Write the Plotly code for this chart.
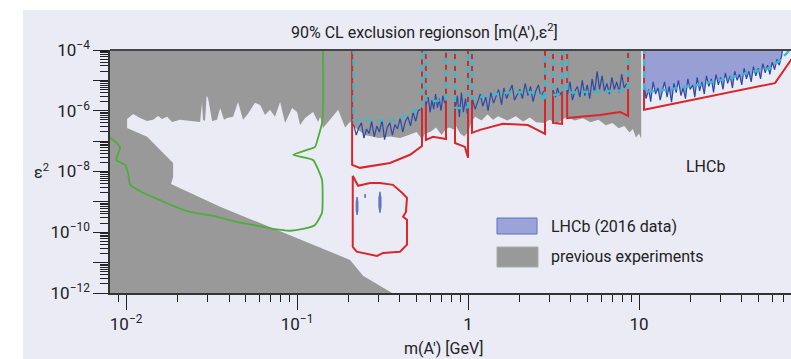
import numpy as np
import plotly.graph_objects as go

# ---------------- data: masses in GeV, limits as log10(eps^2) ----------------
# lower edge of the region excluded by previous (prompt / collider) experiments
prev_upper_mass = [0.01014, 0.01014, 0.01099, 0.01208, 0.01327, 0.01439, 0.01538, 0.01626, 0.01738,
                   0.01858, 0.02070, 0.02366, 0.02710, 0.02780, 0.02818, 0.02897, 0.02960, 0.03020,
                   0.03184, 0.03404, 0.03548, 0.03741, 0.03899, 0.04227, 0.04519, 0.04831, 0.05164,
                   0.05675, 0.06081, 0.06501, 0.06950, 0.07430, 0.07962, 0.08511, 0.09099, 0.09354,
                   0.1000, 0.1042, 0.1114, 0.1143, 0.1242, 0.1327, 0.1365, 0.1419, 0.156, 0.174,
                   0.191, 0.205, 0.212, 0.25, 0.30, 0.35, 0.40, 0.45, 0.50, 0.54, 0.56, 0.60, 0.65,
                   0.70, 0.743, 0.78, 0.82, 0.85, 0.90, 0.95, 1.00, 1.05, 1.10, 1.20, 1.30, 1.40,
                   1.50, 1.70, 1.90, 2.10, 2.30, 2.50, 2.80, 3.00, 3.30, 3.60, 3.80, 4.20, 4.70,
                   5.20, 5.80, 6.40, 7.00, 7.60, 8.20, 8.80, 9.20, 9.60, 10.0, 10.3]
prev_upper_log = [-6.57, -6.27, -6.11, -6.24, -6.34, -6.30, -6.17, -6.27, -6.20,
                  -6.37, -6.30, -6.34, -6.37, -5.74, -6.30, -6.34, -5.51, -5.60,
                  -6.34, -6.30, -5.91, -6.30, -6.24, -6.20, -5.71, -6.30, -6.10,
                  -5.74, -5.81, -6.14, -5.97, -6.20, -5.71, -6.40, -6.04, -5.91,
                  -6.04, -6.47, -6.24, -6.20, -6.04, -6.37, -6.20, -6.57, -6.30, -5.97,
                  -6.55, -6.35, -6.50, -6.80, -6.90, -6.85, -6.90, -6.80, -6.70, -6.95, -6.75, -6.70, -6.55,
                  -6.80, -6.60, -6.55, -6.62, -6.50, -6.75, -6.85, -6.70, -6.35, -6.20, -6.32, -6.12, -6.30,
                  -6.18, -6.32, -6.18, -6.35, -6.22, -6.38, -6.40, -6.30, -6.42, -6.28, -6.20, -6.32, -6.25,
                  -6.38, -6.30, -6.48, -6.40, -6.58, -6.50, -6.72, -6.60, -6.88, -6.75, -6.92]
# upper edge of the beam-dump excluded region
beamdump_mass = [0.01014, 0.01327, 0.01884, 0.01884, 0.01832, 0.03548, 0.2042, 0.2432, 0.3597]
beamdump_log = [-6.57, -6.86, -7.72, -8.18, -8.41, -9.16, -10.91, -11.43, -12.0]

# LHCb 2016 observed limit, per mass window
obs_m1 = [0.214, 0.222, 0.230, 0.238, 0.246, 0.255, 0.264, 0.273, 0.283, 0.293, 0.303, 0.314, 0.325, 0.337,
          0.349, 0.361, 0.374, 0.387, 0.401, 0.415, 0.430, 0.445, 0.461, 0.477, 0.494, 0.511, 0.528]
obs_y1 = [-6.45, -6.80, -6.55, -6.40, -6.90, -6.60, -6.75, -6.35, -6.85, -6.50, -6.70, -6.30, -6.95, -6.55,
          -6.40, -6.80, -6.45, -6.60, -6.25, -6.70, -6.35, -6.20, -6.50, -6.05, -6.35, -6.00, -5.95]
obs_m2 = [0.570, 0.585, 0.600, 0.615, 0.630, 0.646, 0.662, 0.678, 0.695, 0.712, 0.730]
obs_y2 = [-5.80, -5.55, -6.05, -5.65, -5.95, -5.45, -5.90, -5.60, -6.00, -5.50, -5.75]
obs_m3 = [0.842, 0.866, 0.890, 0.915, 0.940, 0.966, 0.990]
obs_y3 = [-5.95, -5.50, -6.20, -5.40, -6.05, -5.60, -6.10]
obs_m4 = [1.06, 1.10, 1.14, 1.18, 1.22, 1.27, 1.31, 1.36, 1.41, 1.46, 1.51, 1.57, 1.62, 1.68,
          1.74, 1.81, 1.87, 1.94, 2.01, 2.08, 2.16, 2.24, 2.32, 2.40, 2.49, 2.58, 2.67, 2.77]
obs_y4 = [-5.60, -5.95, -5.70, -5.45, -5.85, -5.55, -6.00, -5.40, -5.75, -5.50, -5.30, -5.80, -5.25, -5.60,
          -5.40, -5.15, -5.65, -5.45, -5.30, -5.60, -5.10, -5.50, -5.20, -5.70, -5.35, -5.15, -5.55, -5.35]
obs_m5 = [3.16, 3.25, 3.34, 3.43, 3.50]
obs_y5 = [-5.35, -5.55, -5.25, -5.50, -5.40]
obs_m6 = [3.82, 3.95, 4.08, 4.22, 4.36, 4.51, 4.66, 4.82, 4.98, 5.15, 5.32, 5.50, 5.69, 5.88,
          6.08, 6.28, 6.49, 6.71, 6.94, 7.17, 7.41, 7.66, 7.92, 8.19, 8.47]
obs_y6 = [-5.45, -5.05, -5.65, -5.35, -5.20, -5.55, -5.00, -5.50, -5.15, -5.60, -4.95, -5.40, -4.70, -5.30,
          -4.85, -5.35, -5.10, -5.45, -4.90, -5.30, -5.05, -5.40, -4.80, -5.25, -5.10]
obs_m7 = [10.7, 11.0, 11.4, 11.7, 12.1, 12.5, 12.9, 13.3, 13.7, 14.1, 14.6, 15.0, 15.5, 16.0, 16.5,
          17.0, 17.6, 18.1, 18.7, 19.3, 19.9, 20.6, 21.2, 21.9, 22.6, 23.3, 24.1, 24.8, 25.6, 26.5,
          27.3, 28.2, 29.1, 30.0, 31.0, 32.0, 33.0, 34.1, 35.2, 36.3, 37.5, 38.7, 39.9, 41.2, 42.5,
          43.9, 45.3, 46.7, 48.2, 49.8, 51.4, 53.0, 54.7, 56.5, 58.3, 60.1, 62.1, 64.1, 66.1, 68.2, 69.5]
obs_y7 = [-5.15, -5.60, -5.30, -5.70, -5.05, -5.45, -5.25, -5.65, -5.35, -5.05, -5.55, -5.20, -5.72, -5.10, -5.40,
          -5.00, -5.50, -5.25, -5.60, -4.95, -5.30, -5.15, -5.55, -4.90, -5.35, -5.05, -5.45, -4.85, -5.20, -4.95,
          -5.40, -4.80, -5.15, -4.90, -5.30, -4.75, -5.10, -4.85, -5.25, -4.70, -5.00, -4.80, -5.15, -4.60, -4.95,
          -4.70, -5.05, -4.55, -4.85, -4.60, -4.95, -4.45, -4.75, -4.50, -4.80, -4.40, -4.65, -4.30, -4.50, -4.20, -3.90]

# LHCb expected limit, per mass window
exp_m1 = [0.214, 0.30, 0.385, 0.45, 0.538]
exp_y1 = [-6.30, -6.32, -6.30, -6.10, -5.88]
exp_m2 = [0.567, 0.65, 0.743]
exp_y2 = [-5.65, -5.68, -5.62]
exp_m3 = [0.839, 0.92, 1.0]
exp_y3 = [-5.90, -5.92, -5.88]
exp_m4 = [1.055, 1.3, 1.6, 2.0, 2.4, 2.65, 2.82]
exp_y4 = [-5.60, -5.50, -5.42, -5.38, -5.40, -5.48, -5.70]
exp_m5 = [3.14, 3.55]
exp_y5 = [-5.48, -5.45]
exp_m6 = [3.80, 5.0, 6.5, 8.63]
exp_y6 = [-5.40, -5.38, -5.36, -5.33]
exp_m7 = [10.7, 15.0, 21.8, 34.0, 42.8, 58.3, 66.8, 73.4, 78.0]
exp_y7 = [-5.38, -5.30, -5.15, -4.92, -4.76, -4.60, -4.33, -4.10, -3.90]

# projected (red) sensitivity, per mass window
proj_m1 = [0.210, 0.233, 0.350, 0.458, 0.538]
proj_y1 = [-7.78, -7.88, -7.72, -7.45, -7.16]
proj_m2 = [0.567, 0.624, 0.743]
proj_y2 = [-6.96, -6.86, -6.93]
proj_m3 = [0.839, 0.959, 1.0]
proj_y3 = [-7.06, -7.19, -7.55]
proj_m4 = [1.055, 1.175, 1.60, 2.24, 2.82]
proj_y4 = [-6.73, -6.63, -6.43, -6.47, -6.76]
proj_m5 = [3.14, 3.55]
proj_y5 = [-6.40, -6.43]
proj_m6 = [3.80, 4.52, 5.92, 7.74, 8.63]
proj_y6 = [-6.24, -6.20, -6.14, -6.04, -6.17]
proj_m7 = [10.7, 62.4, 85.0]
proj_y7 = [-5.97, -5.09, -4.00]
# projected displaced-search island
island_m = [0.2117, 0.2117, 0.2234, 0.278, 0.2938, 0.3184, 0.400, 0.4395, 0.4395, 0.4169, 0.4335,
            0.4395, 0.4111, 0.3639, 0.3055, 0.2673, 0.2275, 0.2117]
island_y = [-8.14, -10.48, -10.64, -10.74, -10.78, -10.68, -10.64, -10.41, -9.59, -9.49, -9.33,
            -8.87, -8.70, -8.44, -8.38, -8.38, -8.47, -8.14]
# LHCb displaced-search excluded islands
disp1_m = [0.2244, 0.2272, 0.2272, 0.2244, 0.2216, 0.2216, 0.2244]
disp1_y = [-8.84, -9.00, -9.28, -9.43, -9.28, -9.00, -8.84]
disp2_m = [0.2500, 0.2515, 0.2500, 0.2485, 0.2500]
disp2_y = [-8.74, -8.80, -8.87, -8.80, -8.74]
disp3_m = [0.3055, 0.3100, 0.3100, 0.3055, 0.3010, 0.3010, 0.3055]
disp3_y = [-8.67, -8.85, -9.18, -9.36, -9.18, -8.85, -8.67]

# green (other projection) contour
green_m = [0.0080, 0.00923, 0.00875, 0.00987, 0.01028, 0.01055, 0.01256, 0.01517, 0.01884, 0.02366,
           0.03228, 0.04227, 0.05534, 0.07244, 0.09099, 0.1084, 0.1274, 0.1400, 0.1400, 0.1242,
           0.0948, 0.1274, 0.1327, 0.1400, 0.1419, 0.1419]
green_y = [-6.86, -7.19, -7.62, -7.78, -8.05, -8.44, -8.70, -8.90, -9.13, -9.33,
           -9.46, -9.63, -9.76, -9.89, -9.95, -9.89, -9.76, -9.36, -8.28, -7.62,
           -7.45, -7.19, -6.89, -6.40, -5.97, -3.90]

x_tick_vals = [0.01, 0.1, 1, 10]
x_tick_text = ["10<sup>\u22122</sup>", "10<sup>\u22121</sup>", "1", "10"]
y_tick_exps = [-12, -11, -10, -9, -8, -7, -6, -5, -4]
y_tick_text = ["10<sup>\u2212%d</sup>" % (-e) if e % 2 == 0 else "" for e in y_tick_exps]

# ---------------- helpers ----------------
TOP = -3.9   # just above the plotted range (clipped)


def E(vals):
    return [None if v is None else 10.0 ** v for v in vals]


obs_segs = [(obs_m1, obs_y1), (obs_m2, obs_y2), (obs_m3, obs_y3), (obs_m4, obs_y4),
            (obs_m5, obs_y5), (obs_m6, obs_y6), (obs_m7, obs_y7)]
exp_segs = [(exp_m1, exp_y1), (exp_m2, exp_y2), (exp_m3, exp_y3), (exp_m4, exp_y4),
            (exp_m5, exp_y5), (exp_m6, exp_y6), (exp_m7, exp_y7)]
proj_segs = [(proj_m1, proj_y1), (proj_m2, proj_y2), (proj_m3, proj_y3), (proj_m4, proj_y4),
             (proj_m5, proj_y5), (proj_m6, proj_y6), (proj_m7, proj_y7)]


def join(segs, to_top=True):
    xs, ys = [], []
    for m, y in segs:
        if to_top:
            xs += [m[0]] + list(m) + [m[-1], None]
            ys += [TOP] + list(y) + [TOP, None]
        else:
            xs += list(m) + [None]
            ys += list(y) + [None]
    return xs, ys


GRAY = "#999999"
BLUEFILL = "#979fd5"
BLUELINE = "#2b49a8"
CYAN = "#3fb8c9"
RED = "#d9262b"
GREEN = "#4cae3a"
BG = "#ebebf6"
FONT = "Roboto, Liberation Sans, Arial, sans-serif"
TXT = "#222222"

fig = go.Figure()

# previous experiments (gray)
gx = [0.007, 0.007, prev_upper_mass[-1]] + prev_upper_mass[::-1] + beamdump_mass[1:] + [beamdump_mass[-1]]
gy = [-13.0, TOP, TOP] + prev_upper_log[::-1] + beamdump_log[1:] + [-13.0]
fig.add_trace(go.Scatter(x=gx, y=E(gy), mode="lines", fill="toself", fillcolor=GRAY,
                         line=dict(width=0, color=GRAY), hoverinfo="skip", showlegend=False))

# LHCb excluded (blue fill) above 10 GeV
bx = [obs_m7[0]] + obs_m7 + [obs_m7[-1]]
by = [TOP] + obs_y7 + [TOP]
fig.add_trace(go.Scatter(x=bx, y=E(by), mode="lines", fill="toself", fillcolor=BLUEFILL,
                         line=dict(width=0, color=BLUEFILL), hoverinfo="skip", showlegend=False))

# displaced islands
for m, y in [(disp1_m, disp1_y), (disp2_m, disp2_y), (disp3_m, disp3_y)]:
    fig.add_trace(go.Scatter(x=m, y=E(y), mode="lines", fill="toself", fillcolor="#6d80c8",
                             line=dict(width=0.8, color="#4a62b8"), hoverinfo="skip", showlegend=False))

# green contour
fig.add_trace(go.Scatter(x=green_m, y=E(green_y), mode="lines",
                         line=dict(color=GREEN, width=1.8, shape="spline", smoothing=0.4),
                         hoverinfo="skip", showlegend=False))

# red projection
rx, ry = join(proj_segs, to_top=True)
fig.add_trace(go.Scatter(x=rx, y=E(ry), mode="lines", line=dict(color=RED, width=2),
                         hoverinfo="skip", showlegend=False))
fig.add_trace(go.Scatter(x=island_m, y=E(island_y), mode="lines", line=dict(color=RED, width=2),
                         hoverinfo="skip", showlegend=False))

# observed (blue line)
ox, oy = join(obs_segs, to_top=False)
fig.add_trace(go.Scatter(x=ox, y=E(oy), mode="lines", line=dict(color=BLUELINE, width=1.2),
                         hoverinfo="skip", showlegend=False))

# expected (cyan dashed)
ex, ey = join(exp_segs, to_top=True)
fig.add_trace(go.Scatter(x=ex, y=E(ey), mode="lines", line=dict(color=CYAN, width=2.5, dash="7px,5px"),
                         hoverinfo="skip", showlegend=False))

# ---------------- layout ----------------
W, H = 791, 359
L, R, T, B = 110, 0, 50, 66
pw, ph = W - L - R, H - T - B


def px(xp):
    return (xp - L) / pw


def py(yp):
    return (H - B - yp) / ph


x_minor = [k * 10.0 ** d for d in range(-3, 2) for k in range(2, 10)]
y_minor = [k * 10.0 ** d for d in range(-12, -4) for k in range(2, 10)]

axis_common = dict(type="log", showgrid=False, zeroline=False, showline=True, linecolor="#333333",
                   linewidth=1.5, ticks="outside", tickcolor="#222222", tickwidth=1.2,
                   tickfont=dict(family=FONT, size=17, color=TXT), mirror=False, automargin=False)

fig.update_layout(
    width=W, height=H,
    margin=dict(l=L, r=R, t=T, b=B, pad=0),
    paper_bgcolor="white",
    plot_bgcolor="rgba(0,0,0,0)",
    showlegend=False,
    xaxis=dict(range=[-2.094, 1.889], tickmode="array", tickvals=x_tick_vals, ticktext=x_tick_text,
               ticklen=15,
               minor=dict(tickmode="array", tickvals=x_minor, ticks="outside", ticklen=7,
                          tickcolor="#222222", tickwidth=1.2, showgrid=False),
               **axis_common),
    yaxis=dict(range=[-12, -4], tickmode="array", tickvals=[10.0 ** e for e in y_tick_exps],
               ticktext=y_tick_text, ticklen=15,
               minor=dict(tickmode="array", tickvals=y_minor, ticks="outside", ticklen=8,
                          tickcolor="#222222", tickwidth=1.0, showgrid=False),
               **axis_common),
    shapes=[
        dict(type="rect", xref="paper", yref="paper", x0=px(23), x1=px(800), y0=py(365), y1=py(10),
             fillcolor=BG, line=dict(width=0), layer="below"),
        dict(type="line", xref="paper", yref="paper", x0=0, x1=1, y0=1, y1=1,
             line=dict(color="#444444", width=2)),
        dict(type="rect", xref="paper", yref="paper", x0=px(497), x1=px(537), y0=py(234), y1=py(218),
             fillcolor="#9ba3d8", line=dict(color="#5a70c0", width=1)),
        dict(type="rect", xref="paper", yref="paper", x0=px(497), x1=px(538), y0=py(267), y1=py(247),
             fillcolor=GRAY, line=dict(color="#aaaaaa", width=1)),
    ],
    annotations=[
        dict(text="90% CL exclusion regionson [m(A\u2032),\u03b5<sup>2</sup>]", xref="paper", yref="paper",
             x=px(424), y=py(31), xanchor="center", yanchor="middle", showarrow=False,
             font=dict(family=FONT, size=16, color=TXT)),
        dict(text="\u03b5<sup>2</sup>", xref="paper", yref="paper", x=px(41), y=py(171),
             xanchor="center", yanchor="middle", showarrow=False,
             font=dict(family=FONT, size=16, color=TXT)),
        dict(text="m(A\u2032) [GeV]", xref="paper", yref="paper", x=px(444), y=py(348),
             xanchor="center", yanchor="middle", showarrow=False,
             font=dict(family=FONT, size=16, color=TXT)),
        dict(text="LHCb (2016 data)", xref="paper", yref="paper", x=px(549), y=py(226),
             xanchor="left", yanchor="middle", showarrow=False,
             font=dict(family=FONT, size=16, color=TXT)),
        dict(text="previous experiments", xref="paper", yref="paper", x=px(549), y=py(256),
             xanchor="left", yanchor="middle", showarrow=False,
             font=dict(family=FONT, size=16, color=TXT)),
        dict(text="LHCb", xref="paper", yref="paper", x=px(705), y=py(166),
             xanchor="center", yanchor="middle", showarrow=False,
             font=dict(family=FONT, size=16, color=TXT)),
    ],
)

fig.write_html("out.html", config={"displayModeBar": False},
               post_script="document.body.style.margin='0';document.body.style.overflow='hidden';")
